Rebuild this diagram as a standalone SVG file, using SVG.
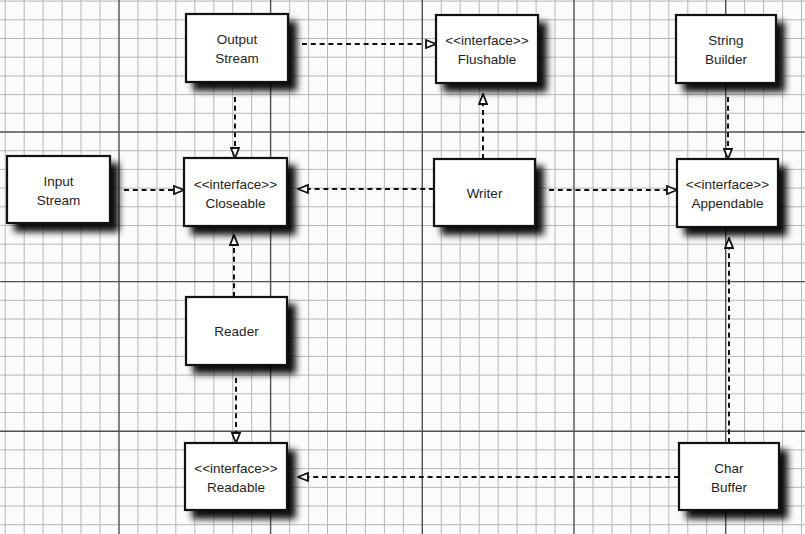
<svg xmlns="http://www.w3.org/2000/svg" width="805" height="534" viewBox="0 0 805 534">
<defs>
<style>
.minor{stroke:#b8b8b8;stroke-width:1;fill:none}
.major{stroke:#505050;stroke-width:1.4;fill:none}
.box{fill:#fff;stroke:#111;stroke-width:2.2}
.shadow{fill:#000;opacity:0.95}
.lbl{font-family:"Liberation Sans",Arial,Helvetica,sans-serif;font-size:13.5px;fill:#1e1e1e;text-anchor:middle}
.conn{stroke:#111;stroke-width:2;stroke-dasharray:5 3.8;fill:none}
.head{fill:#fff;stroke:#111;stroke-width:1.8;stroke-dasharray:none}
</style>
<filter id="blur" x="-25%" y="-25%" width="150%" height="150%">
<feGaussianBlur stdDeviation="3.6"/>
</filter>
<marker id="tri" markerUnits="userSpaceOnUse" viewBox="-1 -1 12 10" markerWidth="12" markerHeight="10" refX="10" refY="4" orient="auto">
<path class="head" d="M0,0 L10,4 L0,8 Z"/>
</marker>
</defs>
<rect width="805" height="534" fill="#fbfbfb"/>
<g id="grid">
<path class="minor" d="M5.2,0V534M24.2,0V534M43.1,0V534M62.1,0V534M81,0V534M100,0V534M137.9,0V534M156.9,0V534M175.8,0V534M194.8,0V534M213.8,0V534M232.7,0V534M251.7,0V534M289.6,0V534M308.6,0V534M327.5,0V534M346.5,0V534M365.4,0V534M384.4,0V534M403.4,0V534M441.3,0V534M460.2,0V534M479.2,0V534M498.2,0V534M517.1,0V534M536.1,0V534M555,0V534M593,0V534M611.9,0V534M630.9,0V534M649.8,0V534M668.8,0V534M687.8,0V534M706.7,0V534M744.6,0V534M763.6,0V534M782.6,0V534M801.5,0V534"/>
<path class="minor" d="M0,1.1H805M0,19.8H805M0,38.5H805M0,57.2H805M0,75.9H805M0,94.6H805M0,113.3H805M0,150.7H805M0,169.4H805M0,188.1H805M0,206.8H805M0,225.5H805M0,244.2H805M0,262.9H805M0,300.3H805M0,319H805M0,337.7H805M0,356.4H805M0,375.1H805M0,393.8H805M0,412.5H805M0,449.9H805M0,468.6H805M0,487.3H805M0,506H805M0,524.7H805"/>
<path class="major" d="M119,0V534M270.6,0V534M422.3,0V534M574,0V534M725.7,0V534M0,132H805M0,281.6H805M0,431.2H805"/>
</g>
<g id="connectors">
<path class="conn" marker-end="url(#tri)" d="M302,44H436"/>
<path class="conn" marker-end="url(#tri)" d="M235,97V158"/>
<path class="conn" marker-end="url(#tri)" d="M124,190H184"/>
<path class="conn" marker-end="url(#tri)" d="M434,189H298"/>
<path class="conn" marker-end="url(#tri)" d="M483,159V94"/>
<path class="conn" marker-end="url(#tri)" d="M549,190H677"/>
<path class="conn" marker-end="url(#tri)" d="M728,97V159"/>
<path class="conn" marker-end="url(#tri)" d="M234,297V235"/>
<path class="conn" marker-end="url(#tri)" d="M236,378V443"/>
<path class="conn" marker-end="url(#tri)" d="M679,477H298"/>
<path class="conn" marker-end="url(#tri)" d="M729,443V238"/>
</g>
<g id="outputstream">
<rect class="shadow" filter="url(#blur)" x="193" y="21" width="104" height="70"/>
<rect class="box" x="186" y="14" width="102" height="68"/>
<text class="lbl" x="237" y="44">Output</text>
<text class="lbl" x="237" y="63">Stream</text>
</g>
<g id="flushable">
<rect class="shadow" filter="url(#blur)" x="443" y="22" width="104" height="70"/>
<rect class="box" x="436" y="15" width="102" height="68"/>
<text class="lbl" x="487" y="45">&lt;&lt;interface&gt;&gt;</text>
<text class="lbl" x="487" y="64">Flushable</text>
</g>
<g id="stringbuilder">
<rect class="shadow" filter="url(#blur)" x="683" y="22" width="102" height="70"/>
<rect class="box" x="676" y="15" width="100" height="68"/>
<text class="lbl" x="726" y="45">String</text>
<text class="lbl" x="726" y="64">Builder</text>
</g>
<g id="inputstream">
<rect class="shadow" filter="url(#blur)" x="14" y="163" width="105" height="69"/>
<rect class="box" x="7" y="156" width="103" height="67"/>
<text class="lbl" x="58.5" y="186">Input</text>
<text class="lbl" x="58.5" y="205">Stream</text>
</g>
<g id="closeable">
<rect class="shadow" filter="url(#blur)" x="191" y="165" width="105" height="70"/>
<rect class="box" x="184" y="158" width="103" height="68"/>
<text class="lbl" x="235.5" y="189">&lt;&lt;interface&gt;&gt;</text>
<text class="lbl" x="235.5" y="208">Closeable</text>
</g>
<g id="writer">
<rect class="shadow" filter="url(#blur)" x="441" y="166" width="103" height="69"/>
<rect class="box" x="434" y="159" width="101" height="67"/>
<text class="lbl" x="484.5" y="198">Writer</text>
</g>
<g id="appendable">
<rect class="shadow" filter="url(#blur)" x="684" y="166" width="103" height="70"/>
<rect class="box" x="677" y="159" width="101" height="68"/>
<text class="lbl" x="727.5" y="189">&lt;&lt;interface&gt;&gt;</text>
<text class="lbl" x="727.5" y="208">Appendable</text>
</g>
<g id="reader">
<rect class="shadow" filter="url(#blur)" x="193" y="304" width="103" height="70"/>
<rect class="box" x="186" y="297" width="101" height="68"/>
<text class="lbl" x="236.5" y="336">Reader</text>
</g>
<g id="readable">
<rect class="shadow" filter="url(#blur)" x="192" y="450" width="104" height="69"/>
<rect class="box" x="185" y="443" width="102" height="67"/>
<text class="lbl" x="236" y="473">&lt;&lt;interface&gt;&gt;</text>
<text class="lbl" x="236" y="492">Readable</text>
</g>
<g id="charbuffer">
<rect class="shadow" filter="url(#blur)" x="686" y="450" width="102" height="69"/>
<rect class="box" x="679" y="443" width="100" height="67"/>
<text class="lbl" x="729" y="473">Char</text>
<text class="lbl" x="729" y="492">Buffer</text>
</g>
</svg>
